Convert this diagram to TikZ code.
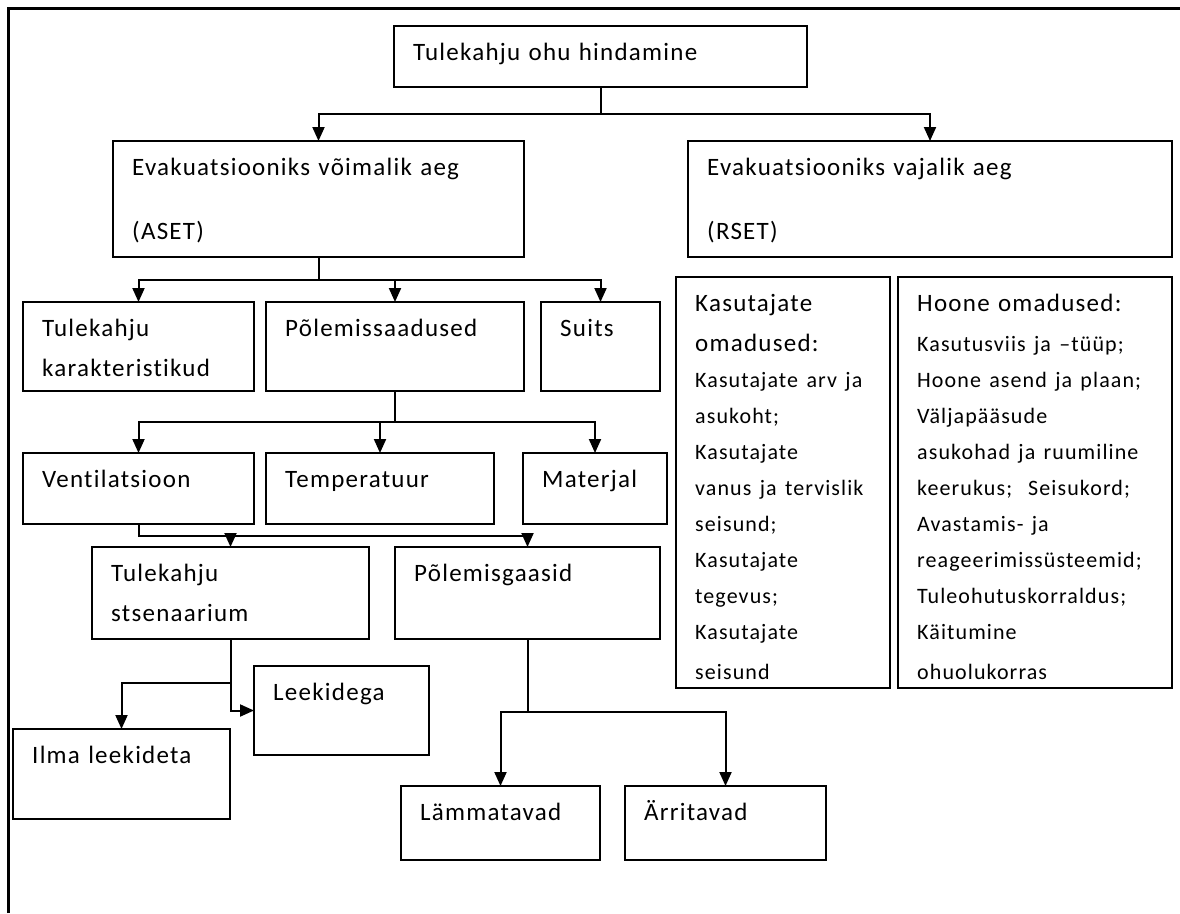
\documentclass[tikz,border=0pt]{standalone}
\usepackage{fontspec}
\setmainfont{Carlito}[LetterSpace=5,Ligatures=NoCommon]
\usetikzlibrary{arrows.meta}
\newcommand{\itm}{\fontsize{22}{36}\selectfont}
\tikzset{
  box/.style={draw, line width=2pt, anchor=north west, inner sep=0pt, outer sep=0pt},
  dim/.style 2 args={minimum width=#1pt, minimum height=#2pt},
  lbl/.style={anchor=base west, xshift=19pt, yshift=-34pt, inner sep=0pt,
    text width=460pt, align=left, font=\fontsize{25}{40}\selectfont},
  conn/.style={line width=2pt, -{Triangle[length=14pt,width=12pt]}},
}
\begin{document}
\begin{tikzpicture}[x=1pt, y=-1pt]
    \useasboundingbox (0,0) rectangle (1180,913);
    % Frame
    \draw[line width=3pt] (8,913) -- (8,8) -- (1180,8);
    % Boxes
    \node[box, dim={413}{61}, label={[lbl]north west:{Tulekahju ohu hindamine}}] (top) at (394,26) {};
    \node[box, dim={411}{116}, label={[lbl]north west:{Evakuatsiooniks võimalik aeg\\[24pt](ASET)}}] (aset) at (113,141) {};
    \node[box, dim={484}{116}, label={[lbl]north west:{Evakuatsiooniks vajalik aeg\\[24pt](RSET)}}] (rset) at (688,141) {};
    \node[box, dim={231}{89}, label={[lbl]north west:{Tulekahju\\karakteristikud}}] (kar) at (23,302) {};
    \node[box, dim={258}{89}, label={[lbl]north west:{Põlemissaadused}}] (saadused) at (266,302) {};
    \node[box, dim={119}{89}, label={[lbl]north west:{Suits}}] (suits) at (541,302) {};
    \node[box, dim={231}{71}, label={[lbl]north west:{Ventilatsioon}}] (vent) at (23,453) {};
    \node[box, dim={228}{71}, label={[lbl]north west:{Temperatuur}}] (temp) at (266,453) {};
    \node[box, dim={144}{71}, label={[lbl]north west:{Materjal}}] (mat) at (523,453) {};
    \node[box, dim={277}{92}, label={[lbl]north west:{Tulekahju\\stsenaarium}}] (stsen) at (92,547) {};
    \node[box, dim={265}{92}, label={[lbl]north west:{Põlemisgaasid}}] (gaasid) at (395,547) {};
    \node[box, dim={175}{89}, label={[lbl]north west:{Leekidega}}] (leek) at (254,666) {};
    \node[box, dim={217}{90}, label={[lbl]north west:{Ilma leekideta}}] (ilma) at (13,729) {};
    \node[box, dim={199}{74}, label={[lbl]north west:{Lämmatavad}}] (lamm) at (401,786) {};
    \node[box, dim={201}{74}, label={[lbl]north west:{Ärritavad}}] (arrit) at (625,786) {};
    \node[box, dim={214}{411}, label={[lbl]north west:{Kasutajate\\omadused:\endgraf\itm
      Kasutajate arv ja\\asukoht;\\Kasutajate\\vanus ja tervislik\\seisund;\\Kasutajate\\tegevus;\\Kasutajate\\seisund}}] (kasut) at (676,277) {};
    \node[box, dim={274}{411}, label={[lbl]north west:{Hoone omadused:\endgraf\vspace{4pt}\itm
      Kasutusviis ja –tüüp;\\Hoone asend ja plaan;\\Väljapääsude\\asukohad ja ruumiline\\keerukus;\hspace{16pt}Seisukord;\\Avastamis- ja\\reageerimissüsteemid;\\Tuleohutuskorraldus;\\Käitumine\\ohuolukorras}}] (hoone) at (898,277) {};
    % Arrows
    \draw[conn] (top.south) -- ++(0,27) -| (aset.north);
    \draw[conn] (top.south) -- ++(0,27) -| (rset.north);
    \draw[conn] (aset.south) -- ++(0,23) -| (kar.north);
    \draw[conn] (aset.south) -- ++(0,23) -| (saadused.north);
    \draw[conn] (aset.south) -- ++(0,23) -| (suits.north);
    \draw[conn] (saadused.south) -- ++(0,31) -| (vent.north);
    \draw[conn] (saadused.south) -- ++(0,31) -| (temp.north);
    \draw[conn] (saadused.south) -- ++(0,31) -| (mat.north);
    \draw[conn] (vent.south) -- ++(0,12) -| (stsen.north);
    \draw[conn] (vent.south) -- ++(0,12) -| (gaasid.north);
    \draw[conn] (stsen.south) |- (leek.west);
    \draw[conn] (stsen.south) -- ++(0,44) -| (ilma.north);
    \draw[conn] (gaasid.south) -- ++(0,73) -| (lamm.north);
    \draw[conn] (gaasid.south) -- ++(0,73) -| (arrit.north);
\end{tikzpicture}
\end{document}
